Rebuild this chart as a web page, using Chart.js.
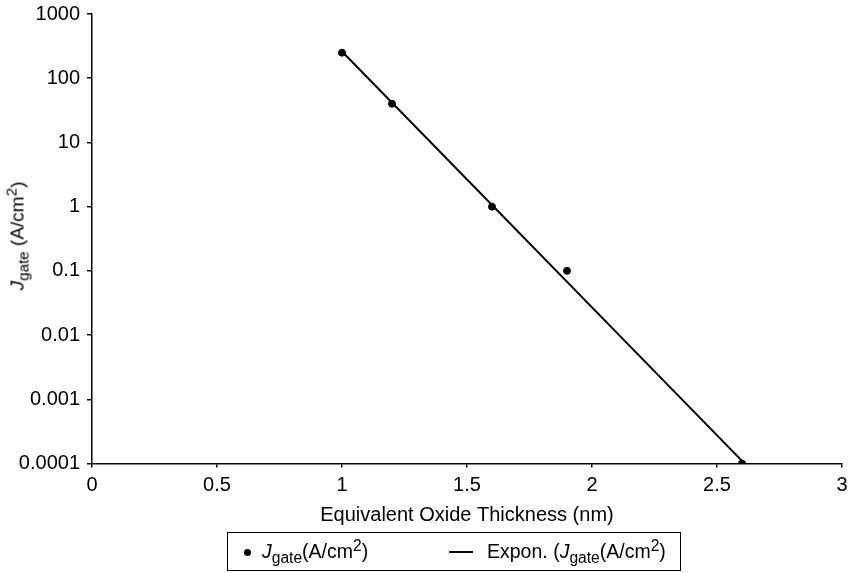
<!DOCTYPE html>
<html>
<head>
<meta charset="utf-8">
<script src="https://cdn.jsdelivr.net/npm/chart.js@4"></script>
<style>
  html, body { margin:0; padding:0; background:#fff; }
  #wrap { position:relative; width:848px; height:573px; font-family:"Liberation Sans", Arial, sans-serif; color:#000; }
  #c { position:absolute; left:0; top:0; }
  #ytitle { position:absolute; left:17px; top:236px; transform:translate(-50%,-50%) rotate(-90deg); white-space:nowrap; font-size:19px; line-height:1; }
  #legend { position:absolute; left:227px; top:532px; width:454px; height:39px; border:1px solid #000; box-sizing:border-box; font-size:19.5px; }
  .li { position:absolute; top:0; height:37px; line-height:37px; white-space:nowrap; }
  sub { font-size:0.8em; vertical-align:-0.3em; line-height:0; }
  sup { font-size:0.8em; vertical-align:0.45em; line-height:0; }
  .dot { position:absolute; width:7px; height:7px; border-radius:50%; background:#000; left:16px; top:16px; }
  .ln { position:absolute; width:24px; height:2.5px; background:#000; left:221px; top:17.5px; }
</style>
</head>
<body>
<div id="wrap">
  <canvas id="c" width="848" height="573"></canvas>
  <div id="ytitle"><i>J</i><sub>gate</sub> (A/cm<sup>2</sup>)</div>
  <div id="legend">
    <span class="dot"></span>
    <div class="li" style="left:34px;"><i>J</i><sub>gate</sub>(A/cm<sup>2</sup>)</div>
    <span class="ln"></span>
    <div class="li" style="left:259px;">Expon. (<i>J</i><sub>gate</sub>(A/cm<sup>2</sup>)</div>
  </div>
</div>
<script>
// Data
const thickness = [1.0, 1.2, 1.6, 1.9, 2.6];          // nm
const jGate = [250, 40, 1, 0.1, 0.0001];              // A/cm^2
const trendX = [1.0, 2.6];                            // exponential trendline ends
const trendY = [260, 0.00011];
const yTickValues = [0.0001, 0.001, 0.01, 0.1, 1, 10, 100, 1000];
const yTickLabels = ['0.0001', '0.001', '0.01', '0.1', '1', '10', '100', '1000'];
const xTickLabels = ['0', '0.5', '1', '1.5', '2', '2.5', '3'];

const FONT = "'Liberation Sans', Arial, sans-serif";

new Chart(document.getElementById('c'), {
  type: 'scatter',
  data: {
    datasets: [
      {
        label: 'Jgate(A/cm2)',
        data: thickness.map((x, i) => ({ x: x, y: jGate[i] })),
        backgroundColor: '#000',
        borderColor: '#000',
        pointRadius: 3.5,
        showLine: false,
        order: 0
      },
      {
        label: 'Expon. (Jgate(A/cm2)',
        data: trendX.map((x, i) => ({ x: x, y: trendY[i] })),
        borderColor: '#000',
        borderWidth: 2,
        pointRadius: 0,
        showLine: true,
        fill: false,
        order: 1
      }
    ]
  },
  options: {
    responsive: false,
    animation: false,
    events: [],
    layout: { padding: { left: 0, right: 6, top: 14, bottom: 45.5 } },
    plugins: { legend: { display: false }, tooltip: { enabled: false } },
    scales: {
      x: {
        type: 'linear',
        min: 0, max: 3,
        afterFit: (s) => { s.paddingLeft = 0; s.paddingRight = 0; },
        ticks: {
          stepSize: 0.5,
          color: '#000',
          font: { family: FONT, size: 20 },
          padding: 6,
          maxRotation: 0,
          callback: (v, i) => xTickLabels[i]
        },
        grid: { drawOnChartArea: false, drawTicks: true, tickLength: 4, color: '#000', lineWidth: 1.5 },
        border: { display: true, color: '#000', width: 1.5 },
        title: {
          display: true,
          text: 'Equivalent Oxide Thickness (nm)',
          color: '#000',
          font: { family: FONT, size: 20 },
          padding: { top: 0, bottom: 0 }
        }
      },
      y: {
        type: 'logarithmic',
        min: 0.0001, max: 1000,
        afterFit: (s) => { s.width = 92; s.paddingTop = 0; s.paddingBottom = 0; },
        afterBuildTicks: (s) => { s.ticks = yTickValues.map(v => ({ value: v })); },
        ticks: {
          color: '#000',
          font: { family: FONT, size: 20 },
          padding: 7,
          autoSkip: false,
          callback: (v, i) => yTickLabels[i]
        },
        grid: { drawOnChartArea: false, drawTicks: true, tickLength: 5, color: '#000', lineWidth: 1.5 },
        border: { display: true, color: '#000', width: 1.5 }
      }
    }
  }
});
</script>
</body>
</html>
